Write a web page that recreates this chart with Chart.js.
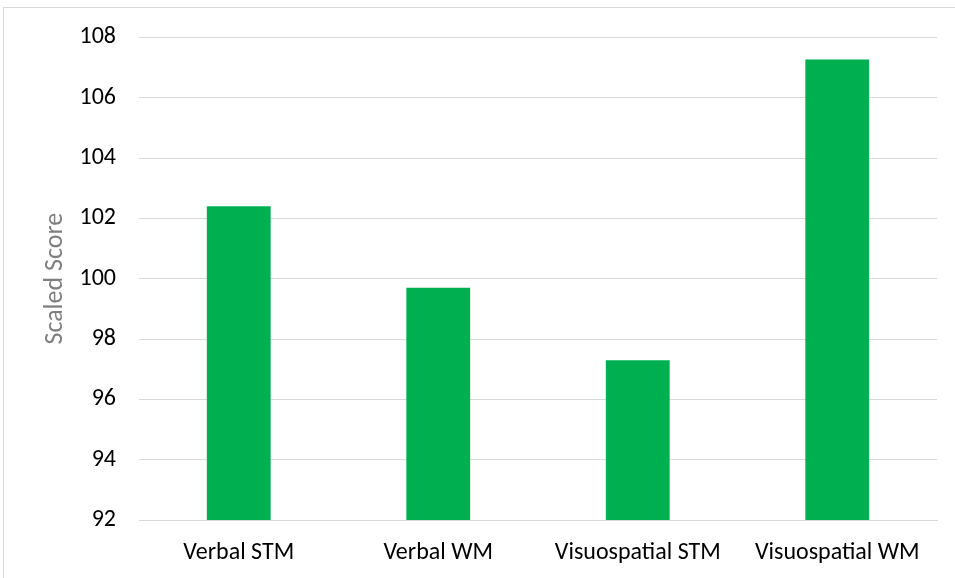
<!DOCTYPE html>
<html>
<head>
<meta charset="utf-8">
<script src="https://cdn.jsdelivr.net/npm/chart.js@4"></script>
<style>
  html, body { margin: 0; padding: 0; background: #ffffff; overflow: hidden; }
  #frame { position: absolute; left: 3px; top: 7px; width: 1200px; height: 1200px;
           border-left: 1px solid #d9d9d9; border-top: 1px solid #d9d9d9; }
  #wrap { position: absolute; left: 0; top: 0; width: 955px; height: 578px; }
</style>
</head>
<body>
<div id="frame"></div>
<div id="wrap"><canvas id="c" width="955" height="578"></canvas></div>
<script>
// Working-memory subtest scores
const categories = ['Verbal STM', 'Verbal WM', 'Visuospatial STM', 'Visuospatial WM'];
const scores = [102.4, 99.7, 97.3, 107.27];
const yTicks = [92, 94, 96, 98, 100, 102, 104, 106, 108];

const fontFamily = 'Carlito, Lato, "Open Sans", sans-serif';

new Chart(document.getElementById('c'), {
  type: 'bar',
  data: {
    labels: categories,
    datasets: [{
      data: scores,
      backgroundColor: '#00b050',
      borderWidth: 0,
      barPercentage: 0.32,
      categoryPercentage: 1.0
    }]
  },
  options: {
    responsive: false,
    animation: false,
    devicePixelRatio: 1,
    layout: { padding: { left: 30, right: 18, top: 36, bottom: 14 } },
    plugins: { legend: { display: false }, tooltip: { enabled: false } },
    scales: {
      x: {
        afterFit: (scale) => { scale.height = 44; },
        grid: { display: false, drawTicks: false },
        border: { display: true, color: '#d9d9d9', width: 1 },
        ticks: { color: '#000000', padding: 19, font: { family: fontFamily, size: 24 } }
      },
      y: {
        min: yTicks[0],
        max: yTicks[yTicks.length - 1],
        afterBuildTicks: (scale) => { scale.ticks = yTicks.map(v => ({ value: v })); },
        afterFit: (scale) => { scale.width = 109; },
        grid: { color: '#d9d9d9', lineWidth: 1, drawTicks: false },
        border: { display: false },
        ticks: { color: '#000000', padding: 23, font: { family: fontFamily, size: 24 } },
        title: {
          display: true,
          text: 'Scaled Score',
          color: '#7f7f7f',
          padding: { top: 10, bottom: 0 },
          font: { family: fontFamily, size: 26 }
        }
      }
    }
  }
});
</script>
</body>
</html>
